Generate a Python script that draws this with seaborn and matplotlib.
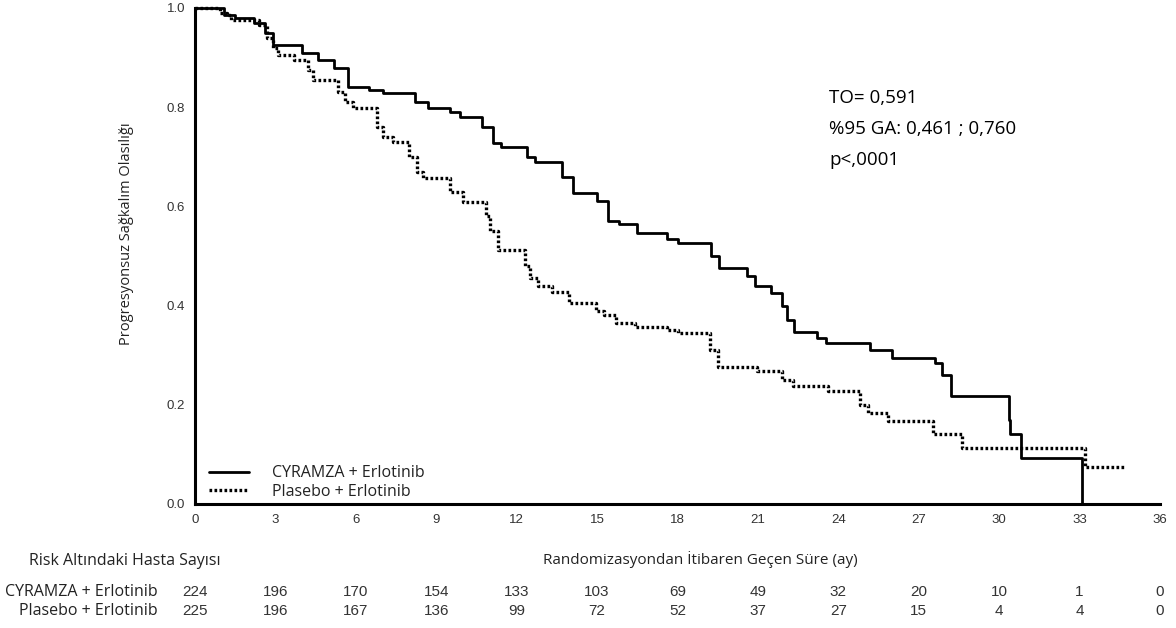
import numpy as np
import pandas as pd
import matplotlib
matplotlib.use("Agg")
import matplotlib.pyplot as plt
import seaborn as sns
from matplotlib.lines import Line2D
from matplotlib.transforms import blended_transform_factory

# Kaplan-Meier eğrileri (okunan değerler, basamak başlangıçları)
cyr_time = [0, 1.1, 1.5, 2.2, 2.6, 2.9, 4.0, 4.6, 5.2, 5.7, 6.5, 7.0, 8.2, 8.7, 9.5, 9.9,
            10.7, 11.1, 11.4, 12.4, 12.7, 13.7, 14.1, 15.0, 15.4, 15.8, 16.5, 17.6, 18.0,
            19.25, 19.55, 20.6, 20.9, 21.5, 21.9, 22.1, 22.35, 23.2, 23.55, 25.2, 26.0,
            27.6, 27.85, 28.2, 30.35, 30.4, 30.8, 33.1]
cyr_surv = [1.0, 0.985, 0.98, 0.97, 0.95, 0.925, 0.91, 0.895, 0.88, 0.84, 0.835, 0.828,
            0.81, 0.798, 0.79, 0.78, 0.76, 0.728, 0.72, 0.70, 0.69, 0.66, 0.627, 0.61,
            0.57, 0.565, 0.546, 0.535, 0.526, 0.50, 0.476, 0.46, 0.44, 0.425, 0.40, 0.37,
            0.347, 0.335, 0.324, 0.31, 0.295, 0.284, 0.26, 0.218, 0.17, 0.141, 0.093, 0.0]

pla_time = [0, 0.95, 1.2, 1.35, 2.4, 2.7, 2.9, 3.1, 3.7, 4.2, 4.4, 5.35, 5.6, 5.9, 6.8,
            7.0, 7.4, 8.0, 8.3, 8.5, 9.5, 10.0, 10.85, 11.0, 11.3, 12.3, 12.5, 12.8, 13.3,
            13.95, 14.95, 15.25, 15.7, 16.4, 17.6, 18.0, 19.2, 19.5, 20.95, 21.9, 22.3,
            23.6, 24.8, 25.1, 25.85, 27.55, 28.6, 33.2, 34.65]
pla_surv = [1.0, 0.99, 0.985, 0.975, 0.965, 0.94, 0.919, 0.905, 0.895, 0.875, 0.855,
            0.83, 0.81, 0.798, 0.76, 0.74, 0.73, 0.70, 0.67, 0.657, 0.63, 0.609, 0.58,
            0.55, 0.512, 0.48, 0.456, 0.44, 0.428, 0.405, 0.39, 0.381, 0.365, 0.357, 0.35,
            0.345, 0.31, 0.276, 0.268, 0.25, 0.238, 0.228, 0.20, 0.183, 0.167, 0.141,
            0.113, 0.075, 0.075]

# Risk tablosu
risk_times = [0, 3, 6, 9, 12, 15, 18, 21, 24, 27, 30, 33, 36]
risk_cyr = [224, 196, 170, 154, 133, 103, 69, 49, 32, 20, 10, 1, 0]
risk_pla = [225, 196, 167, 136, 99, 72, 52, 37, 27, 15, 4, 4, 0]

grp_cyr = "CYRAMZA + Erlotinib"
grp_pla = "Plasebo + Erlotinib"

df_cyr = pd.DataFrame({"time": cyr_time, "surv": cyr_surv})
df_pla = pd.DataFrame({"time": pla_time, "surv": pla_surv})

sns.set_theme(style="white")
plt.rcParams["font.family"] = ["Open Sans", "DejaVu Sans"]

ARIAL = ["Liberation Sans", "DejaVu Sans"]
TXT = "#222222"
DOT = (0, (0.8, 0.7))

fig = plt.figure(figsize=(11.76, 6.28), dpi=100)
ax = fig.add_axes([195 / 1176, 1 - 504 / 628, (1160 - 195) / 1176, (504 - 8) / 628])

sns.lineplot(data=df_cyr, x="time", y="surv", ax=ax, estimator=None, sort=False,
             drawstyle="steps-post", color="black", linewidth=2.0, clip_on=False)
sns.lineplot(data=df_pla, x="time", y="surv", ax=ax, estimator=None, sort=False,
             drawstyle="steps-post", color="black", linewidth=2.4,
             linestyle=DOT, clip_on=False)

ax.set_xlim(0, 36)
ax.set_ylim(0, 1.0)
ax.set_xticks(risk_times)
ax.set_yticks([0.0, 0.2, 0.4, 0.6, 0.8, 1.0])
ax.set_yticklabels(["0.0", "0.2", "0.4", "0.6", "0.8", "1.0"])
ax.set_xlabel("")
ax.set_ylabel("")
for side in ["top", "right"]:
    ax.spines[side].set_visible(False)
for side in ["left", "bottom"]:
    ax.spines[side].set_linewidth(2.2)
    ax.spines[side].set_color("black")
ax.tick_params(axis="both", direction="out", length=5, width=1.6, color="black",
               labelsize=9.5, labelcolor="#333333", pad=2)
for lab in ax.get_xticklabels() + ax.get_yticklabels():
    lab.set_family(ARIAL)

# legend
handles = [Line2D([], [], color="black", linewidth=2.0),
           Line2D([], [], color="black", linewidth=2.4, linestyle=DOT)]
ax.legend(handles, [grp_cyr, grp_pla], loc="lower left", bbox_to_anchor=(0.0, -0.02),
          frameon=False, fontsize=11.5, handlelength=2.45, handletextpad=1.5,
          labelspacing=0.15, labelcolor=TXT)

# istatistik kutusu
for yy, s in zip([98, 129, 160], ["TO= 0,591", "%95 GA: 0,461 ; 0,760", "p<,0001"]):
    fig.text(829 / 1176, 1 - yy / 628, s, fontsize=13.5, color="black", va="center")

# eksen etiketleri
fig.text(127 / 1176, 1 - 234 / 628, "Progresyonsuz Sağkalım Olasılığı", rotation=90,
         fontsize=10.5, color=TXT, ha="center", va="center")
fig.text(700 / 1176, 1 - 560 / 628, "Randomizasyondan İtibaren Geçen Süre (ay)",
         fontsize=11, color=TXT, ha="center", va="center")
fig.text(29 / 1176, 1 - 561 / 628, "Risk Altındaki Hasta Sayısı",
         fontsize=11.5, color=TXT, ha="left", va="center")

# risk tablosu
trans = blended_transform_factory(ax.transData, fig.transFigure)
fig.text(158 / 1176, 1 - 592 / 628, grp_cyr, fontsize=11.5, color=TXT, ha="right", va="center")
fig.text(158 / 1176, 1 - 611 / 628, grp_pla, fontsize=11.5, color=TXT, ha="right", va="center")
for t, a, b in zip(risk_times, risk_cyr, risk_pla):
    ax.text(t, 1 - 592 / 628, str(a), transform=trans, fontsize=11, color="#333333",
            ha="center", va="center", family=ARIAL)
    ax.text(t, 1 - 611 / 628, str(b), transform=trans, fontsize=11, color="#333333",
            ha="center", va="center", family=ARIAL)

fig.savefig("out.png", dpi=100)
